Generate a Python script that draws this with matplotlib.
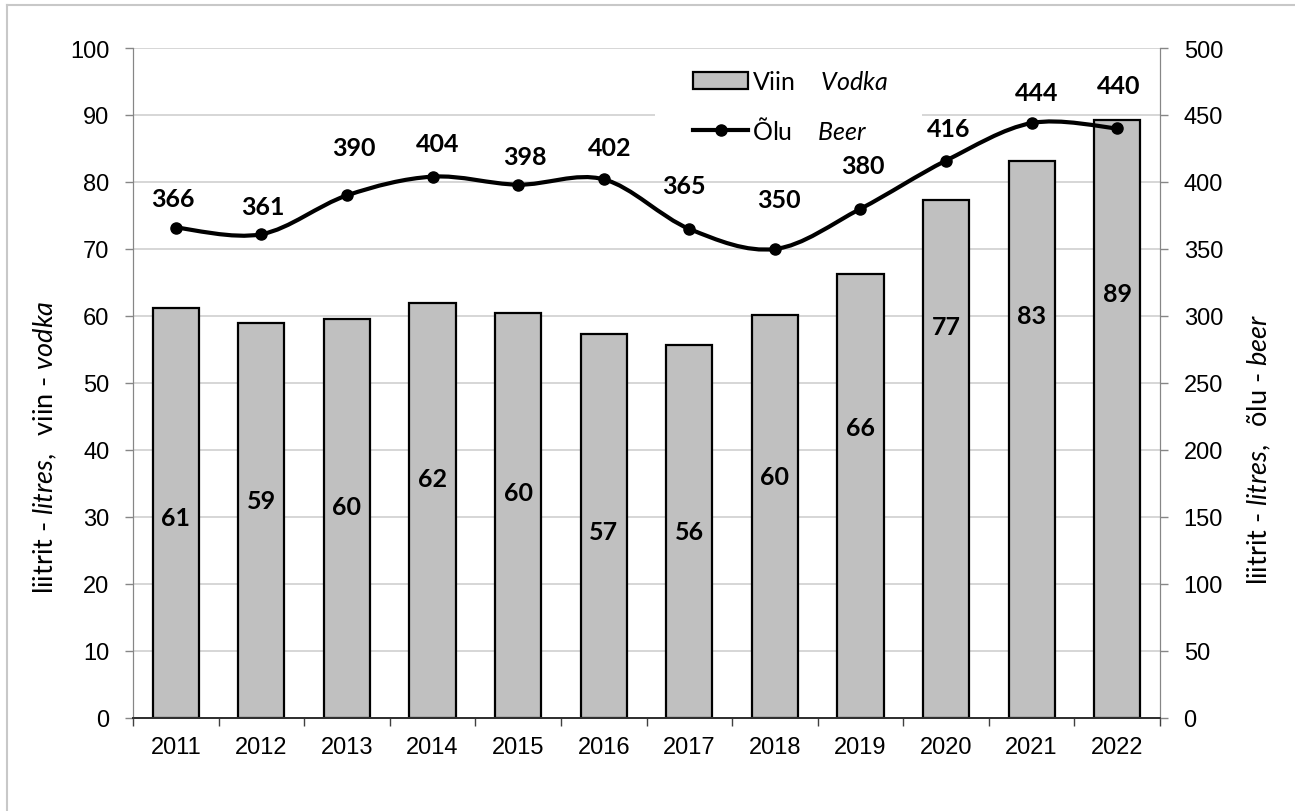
import matplotlib
matplotlib.use("Agg")
import matplotlib.pyplot as plt
from matplotlib.path import Path
from matplotlib.patches import PathPatch, Rectangle
from matplotlib.lines import Line2D

years = ["2011", "2012", "2013", "2014", "2015", "2016",
         "2017", "2018", "2019", "2020", "2021", "2022"]
vodka = [61.2, 58.9, 59.6, 61.9, 60.4, 57.3, 55.7, 60.1, 66.3, 77.3, 83.1, 89.3]
beer = [366, 361, 390, 404, 398, 402, 365, 350, 380, 416, 444, 440]

# where excel put the labels (vodka: y in axis units, beer: pixel offsets)
vodka_label_y = [29.9, 32.5, 31.5, 35.7, 33.7, 27.8, 27.8, 36.1, 43.4, 58.5, 60.0, 63.3]
beer_label_off = [(-3, 29), (1, 28), (7, 48), (5, 33), (7, 28), (6, 32),
                  (-5, 43), (4, 49), (2, 43), (3, 32), (5, 31), (1, 43)]

plt.rcParams['font.family'] = ['Liberation Sans', 'DejaVu Sans']
plt.rcParams['mathtext.fontset'] = 'custom'
plt.rcParams['mathtext.rm'] = 'Lato'
plt.rcParams['mathtext.it'] = 'Lato:italic'
plt.rcParams['mathtext.bf'] = 'Lato:bold'

W, H = 1295, 812
fig = plt.figure(figsize=(W / 100, H / 100), dpi=100)
ax = fig.add_axes([133 / W, 1 - 719 / H, (1160 - 133) / W, (719 - 49) / H])
ax2 = ax.twinx()

x = list(range(len(years)))
grid_c = '#d0d0d0'
axis_c = '#868686'

# bars
ax.bar(x, vodka, width=0.54, color='#c0c0c0', edgecolor='black', linewidth=1.6, zorder=2)
for i, v in enumerate(vodka):
    ax.text(i, vodka_label_y[i], f"{v:.0f}", ha='center', va='center',
            fontsize=18, fontweight='bold', family='Lato', zorder=3)

ax.set_xlim(-0.5, len(years) - 0.5)
ax.set_ylim(0, 100)
ax.set_yticks(range(0, 101, 10))
ax.set_axisbelow(True)
ax.yaxis.grid(True, color=grid_c, linewidth=1.2)
ax.set_xticks(x)
ax.set_xticklabels(years)
ax.set_xticks([i - 0.5 for i in range(len(years) + 1)], minor=True)
ax.tick_params(axis='x', which='major', length=0, pad=13, labelsize=17)
ax.tick_params(axis='x', which='minor', length=6, width=1, color='#404040', direction='out')
ax.tick_params(axis='y', length=6, width=1, color=axis_c, pad=11, labelsize=17)

# white box behind the legend hides part of the grid
ax.add_patch(Rectangle(((655 - 133) / 1027, (719 - 145) / 670), (922 - 655) / 1027, 85 / 670,
                       transform=ax.transAxes, facecolor='white', edgecolor='none', zorder=1))

# smoothed beer line, bezier like excel
verts = [(x[0], beer[0])]
codes = [Path.MOVETO]
n = len(beer)
for i in range(n - 1):
    p0 = (x[max(i - 1, 0)], beer[max(i - 1, 0)])
    p1 = (x[i], beer[i])
    p2 = (x[i + 1], beer[i + 1])
    p3 = (x[min(i + 2, n - 1)], beer[min(i + 2, n - 1)])
    c1 = (p1[0] + (p2[0] - p0[0]) / 6, p1[1] + (p2[1] - p0[1]) / 6)
    c2 = (p2[0] - (p3[0] - p1[0]) / 6, p2[1] - (p3[1] - p1[1]) / 6)
    verts += [c1, c2, p2]
    codes += [Path.CURVE4] * 3
ax2.add_patch(PathPatch(Path(verts, codes), facecolor='none', edgecolor='black',
                        linewidth=3, capstyle='round', zorder=3))
ax2.plot(x, beer, 'o', color='black', markersize=8, zorder=4)
for i, b in enumerate(beer):
    ax2.annotate(str(b), (i, b), xytext=beer_label_off[i], textcoords='offset pixels',
                 ha='center', va='center', fontsize=18, fontweight='bold', family='Lato')

ax2.set_ylim(0, 500)
ax2.set_yticks(range(0, 501, 50))
ax2.tick_params(axis='y', length=6, width=1, color=axis_c, pad=11, labelsize=17)

for a in (ax, ax2):
    a.spines['top'].set_visible(False)
    a.spines['left'].set_color(axis_c)
    a.spines['right'].set_color(axis_c)
    a.spines['bottom'].set_color('#303030')
    a.spines['bottom'].set_linewidth(1.3)

handles = [Rectangle((0, 0), 1, 1, facecolor='#c0c0c0', edgecolor='black', linewidth=1.6),
           Line2D([], [], color='black', linewidth=3, marker='o', markersize=8)]
labels = ['Viin    $\\mathit{Vodka}$', 'Õlu    $\\mathit{Beer}$']
leg = ax2.legend(handles, labels, loc='upper left',
                 bbox_to_anchor=((693 - 133) / 1027, (719 - 71) / 670),
                 frameon=False, prop={'family': 'Lato', 'size': 18},
                 handlelength=2.2, handleheight=0.65, handletextpad=0.15,
                 labelspacing=0.9, borderpad=0, borderaxespad=0)

fig.text(45 / W, 1 - 447 / H, 'liitrit - $\\mathit{litres,}$  viin - $\\mathit{vodka}$',
         rotation=90, ha='center', va='center', fontsize=19.5, family='Lato')
fig.text(1259 / W, 1 - 449 / H, 'liitrit - $\\mathit{litres,}$  õlu - $\\mathit{beer}$',
         rotation=90, ha='center', va='center', fontsize=19.5, family='Lato')

# thin frame of the chart area (only top and left edge show)
fig.add_artist(Line2D([7 / W, 1], [1 - 6 / H, 1 - 6 / H], transform=fig.transFigure,
                      color='#c8c8c8', linewidth=1.5))
fig.add_artist(Line2D([7 / W, 7 / W], [0, 1 - 6 / H], transform=fig.transFigure,
                      color='#c8c8c8', linewidth=1.5))

fig.savefig('out.png', dpi=100, facecolor='white')
